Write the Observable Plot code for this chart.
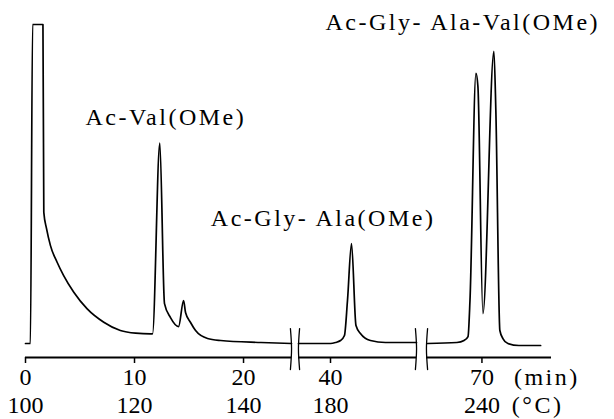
<!DOCTYPE html>
<html><head><meta charset="utf-8">
<script src="https://cdn.jsdelivr.net/npm/d3@7"></script>
<script src="https://cdn.jsdelivr.net/npm/@observablehq/plot@0.6"></script>
<style>
body{margin:0;background:#fff}
#chart svg g[aria-label="text"] text{letter-spacing:2.5px}
</style></head><body><div id="chart"></div>
<script>
// Retention time (min) and detector signal (arbitrary units, 0 = axis line)
const seg1Time   = [0, 0.45, 0.65, 1.6, 1.68, 1.93, 2.29, 2.9, 3.5, 4.43, 5.66, 7.18, 8.7, 10.1, 11.47, 11.65, 12.32, 12.75, 13.3, 14.04, 14.5, 14.68, 15.14, 15.6, 16.7, 17.9, 21.6, 24.4];
const seg1Signal = [4.2, 4.2, 100, 100, 43.6, 38.7, 33.6, 28.6, 24.6, 19.6, 14.6, 10.6, 8.1, 7.3, 7.1, 7.1, 64.4, 16.2, 12.0, 9.3, 17.1, 13.5, 10.5, 8.1, 5.7, 5.1, 4.5, 4.2];
const seg2Time   = [37.06, 40.0, 40.46, 40.92, 41.28, 41.56, 41.93, 42.34, 42.75, 43.67, 45.05, 47.9];
const seg2Signal = [4.2, 4.2, 4.5, 5.1, 6.6, 17.1, 34.2, 9.6, 7.2, 5.1, 4.5, 4.5];
const seg3Time   = [65.0, 67.7, 68.35, 68.72, 68.9, 69.45, 69.63, 70.09, 71.1, 71.28, 71.65, 71.93, 72.39, 73.4, 75.4];
const seg3Signal = [4.2, 4.5, 5.1, 6.3, 17.1, 85.3, 81.4, 13.2, 91.9, 74.2, 8.1, 5.7, 4.2, 3.6, 3.6];

// Broken time axis: visible pieces
const axisStart = [0, 37.06, 64.9];
const axisEnd   = [24.4, 47.9, 76.4];
const breakAt   = [24.4, 37.06, 47.9, 64.9];

// Tick labels
const minTicks   = [0, 10, 20, 40, 70];
const tempLabels = ["100", "120", "140", "180", "240"];
const unitText = ["(min)", "(°C)"];
const unitX    = [72.94, 72.75];
const unitY    = [-3.0, -11.4];

// Peak labels
const labelText = ["Ac-Val(OMe)", "Ac-Gly- Ala(OMe)", "Ac-Gly- Ala-Val(OMe)"];
const labelX    = [5.5, 17.0, 39.54];
const labelY    = [69.7, 39.6, 98.2];

const trace = [];
[[seg1Time, seg1Signal], [seg2Time, seg2Signal], [seg3Time, seg3Signal]].forEach(([ts, vs], s) =>
  ts.forEach((t, i) => trace.push({seg: s, t, v: vs[i]})));

const axisSegs = axisStart.map((a, i) => ({x1: a, x2: axisEnd[i], y: 0}));

const breaks = [];
breakAt.forEach((b, i) => {
  const dir = i % 2 === 0 ? 1 : -1;
  breaks.push({id: i, t: b - 0.1 * dir, v: 8.7});
  breaks.push({id: i, t: b + 0.1 * dir, v: 2.6});
  breaks.push({id: i, t: b - 0.1 * dir, v: -3.6});
});

const labels = labelText.map((text, i) => ({text, t: labelX[i], v: labelY[i]}));
const units = unitText.map((text, i) => ({text, t: unitX[i], v: unitY[i]}));

const chart = Plot.plot({
  width: 614,
  height: 419,
  marginTop: 24,
  marginBottom: 62,
  marginLeft: 25,
  marginRight: 63,
  style: {fontFamily: "Liberation Serif", fontSize: "24px", background: "white", color: "black"},
  x: {type: "linear", domain: [0, 24.4, 37.06, 47.9, 64.9, 76.4], range: [25, 291, 298, 416, 426, 551], label: null},
  y: {domain: [0, 100], axis: null},
  marks: [
    Plot.ruleY(axisSegs, {x1: "x1", x2: "x2", y: "y", stroke: "black", strokeWidth: 1.8}),
    Plot.axisX({ticks: minTicks, tickSize: 6, tickPadding: 4, fontSize: 24, label: null, strokeWidth: 1.5,
                tickFormat: d => String(d)}),
    Plot.axisX({ticks: minTicks, tickSize: 0, tickPadding: 38, fontSize: 24, label: null,
                tickFormat: d => tempLabels[minTicks.indexOf(d)]}),
    Plot.line(trace, {x: "t", y: "v", z: "seg", stroke: "black", strokeWidth: 1.7, curve: "monotone-x"}),
    Plot.line(breaks, {x: "t", y: "v", z: "id", stroke: "black", strokeWidth: 1.3, curve: "natural"}),
    Plot.text(labels, {x: "t", y: "v", text: "text", textAnchor: "start", lineAnchor: "bottom", fontSize: 24, fill: "black"}),
    Plot.text(units, {x: "t", y: "v", text: "text", textAnchor: "start", lineAnchor: "top", fontSize: 24, fill: "black"})
  ]
});
document.getElementById("chart").appendChild(chart);
</script></body></html>
